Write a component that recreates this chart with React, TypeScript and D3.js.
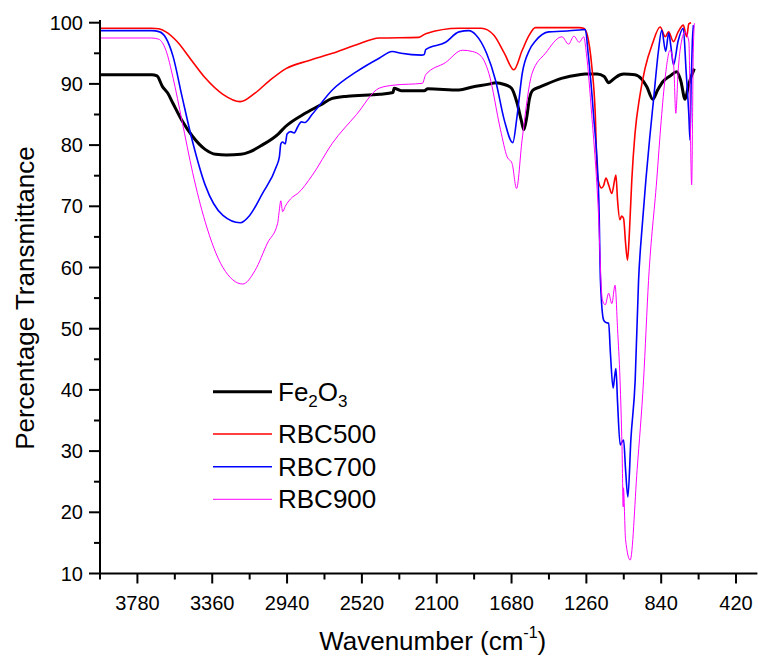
import React from "react";
import * as d3 from "d3";

// ---------- data (wavenumber cm^-1, % transmittance) ----------
const fe2o3W = [3990,3800,3700,3670,3640,3610,3580,3530,3470,3400,3340,3280,3200,3150,3080,2990,2950,2850,2750,2690,2600,2420,2345,2339,2300,2170,2150,1975,1900,1800,1770,1720,1680,1650,1625,1611,1595,1580,1560,1520,1400,1300,1266,1200,1160,1135,1115,1094,1050,987,950,920,887,860,830,790,753,730,706,685,654];
const fe2o3T = [91.5,91.5,91.5,91.3,89.6,88.5,86.8,84.0,81.4,79.3,78.5,78.4,78.5,78.9,80.0,81.8,83.0,85.0,86.6,87.6,88.0,88.3,88.6,89.3,88.9,88.9,89.2,89.0,89.5,90.0,90.2,89.9,89.3,87.0,84.0,82.5,84.5,87.5,89.0,89.5,90.9,91.5,91.6,91.6,91.2,90.2,90.6,91.1,91.6,91.5,90.8,89.5,87.5,89.0,90.4,91.3,92.0,90.5,87.5,90.0,92.5];

const rbc500W = [3990,3700,3660,3620,3560,3480,3400,3300,3203,3120,3040,2946,2820,2686,2550,2423,2200,2162,1975,1850,1780,1720,1667,1620,1580,1546,1300,1275,1255,1230,1210,1200,1190,1175,1163,1150,1135,1117,1100,1094,1085,1072,1062,1051,1040,1029,1018,1005,987,960,931,890,846,817,799,771,745,716,697,685,672];
const rbc500T = [99.1,99.1,99.0,98.5,97.0,94.0,91.0,88.3,87.1,88.5,90.5,92.5,93.8,95.0,96.4,97.5,97.6,98.2,99.1,99.1,98.0,95.0,92.3,95.5,98.0,99.2,99.2,99.1,98.0,93.0,85.0,76.0,73.8,73.0,73.4,74.6,73.5,72.1,74.5,75.1,71.0,67.8,68.4,68.0,64.0,61.2,66.0,74.3,81.9,88.0,92.5,96.5,99.3,97.7,98.5,96.9,98.5,99.6,97.7,99.8,100];

const rbc700W = [3990,3700,3655,3620,3580,3530,3470,3400,3300,3203,3150,3080,3000,2983,2975,2965,2950,2940,2920,2900,2880,2860,2840,2800,2686,2550,2423,2350,2300,2185,2170,2162,2050,1975,1919,1880,1820,1770,1720,1673,1650,1620,1580,1546,1471,1400,1300,1266,1250,1220,1190,1181,1163,1150,1135,1125,1110,1102,1094,1085,1070,1060,1051,1040,1027,1010,986,967,946,926,905,883,855,837,815,798,785,771,745,716,700,685,678,672,665,659];
const rbc700T = [98.7,98.7,98.5,97.5,94.5,88.0,80.5,73.5,68.5,67.3,68.5,72.0,76.5,78.1,80.2,80.5,80.2,81.8,82.2,82.0,83.0,83.8,83.7,85.0,89.0,92.0,94.2,95.3,95.0,94.7,94.8,95.6,96.8,98.5,98.7,98.0,95.0,90.6,84.0,80.4,84.5,91.7,95.5,97.0,98.5,98.6,98.8,98.9,95.0,85.0,71.0,57.9,51.4,51.0,50.9,46.0,40.3,42.0,43.5,38.0,31.0,31.5,31.8,27.0,22.5,32.0,41.6,57.9,67.0,74.3,81.0,87.4,95.5,98.8,95.3,98.3,96.0,93.1,97.0,99.1,92.0,85.0,80.8,90.0,97.0,99.6];

const rbc900W = [3990,3700,3660,3620,3580,3530,3470,3400,3300,3189,3120,3050,2993,2985,2975,2965,2950,2910,2880,2800,2686,2550,2423,2339,2180,2162,2050,1956,1900,1850,1807,1742,1705,1677,1652,1621,1565,1490,1397,1360,1330,1300,1275,1260,1230,1195,1170,1154,1135,1117,1099,1085,1071,1060,1053,1052,1040,1014,975,939,911,865,840,817,790,770,758,745,734,706,685,669,660,654];
const rbc900T = [97.5,97.5,97.3,95.5,91.0,84.0,75.5,67.5,60.0,57.3,59.5,64.0,67.2,69.0,70.9,69.1,70.0,71.5,72.1,75.0,80.3,85.0,89.3,89.8,90.1,91.5,93.5,95.5,95.3,94.5,91.7,82.5,78.1,77.0,72.9,80.8,91.7,95.0,97.7,96.5,97.8,96.8,97.7,95.0,85.0,70.5,54.7,53.9,55.8,54.1,57.1,50.0,41.6,30.7,20.9,24.0,15.5,12.2,27.0,41.6,57.9,74.3,84.0,91.2,95.5,93.0,85.2,92.0,95.5,98.5,97.0,73.5,95.0,99.9];

const seriesNames = ["Fe2O3", "RBC500", "RBC700", "RBC900"];
const seriesColors = ["#000000", "#ff0000", "#0000ff", "#ff00ff"];
const seriesWidths = [3, 1.6, 1.6, 1];

const xMajorTicks = [3780, 3360, 2940, 2520, 2100, 1680, 1260, 840, 420];
const xMinorTicks = [3990, 3570, 3150, 2730, 2310, 1890, 1470, 1050, 630];
const yMajorTicks = [10, 20, 30, 40, 50, 60, 70, 80, 90, 100];
const yMinorTicks = [15, 25, 35, 45, 55, 65, 75, 85, 95];

const FONT = "'Liberation Sans', Arial, Helvetica, sans-serif";

export default function App() {
  const W = 758, H = 660;
  const x = d3.scaleLinear().domain([3990, 300]).range([100, 757.4]);
  const y = d3.scaleLinear().domain([10, 100]).range([573.5, 22.7]);

  const allW = [fe2o3W, rbc500W, rbc700W, rbc900W];
  const allT = [fe2o3T, rbc500T, rbc700T, rbc900T];

  const line = d3
    .line<[number, number]>()
    .x((d) => x(d[0]))
    .y((d) => y(d[1]))
    .curve(d3.curveMonotoneX);

  const paths = allW.map((ws, i) => line(ws.map((w, j) => [w, allT[i][j]] as [number, number])) || "");

  const x0 = x.range()[0];
  const x1 = x.range()[1];
  const yB = y(10);

  const legendY = [391.7, 434, 466.7, 499.3];

  return (
    <svg
      width={W}
      height={H}
      style={{ position: "absolute", left: 0, top: 0, background: "#fff" }}
      fontFamily={FONT}
    >
      <rect x={0} y={0} width={W} height={H} fill="#fff" />
      {/* series */}
      {paths.map((p, i) => (
        <path key={i} d={p} fill="none" stroke={seriesColors[i]} strokeWidth={seriesWidths[i]} strokeLinejoin="round" />
      ))}

      {/* axes */}
      <line x1={x0} x2={x0} y1={20} y2={yB + 1} stroke="#000" strokeWidth={2} />
      <line x1={x0 - 1} x2={x1} y1={yB} y2={yB} stroke="#000" strokeWidth={2} />

      {yMajorTicks.map((t) => (
        <g key={"ym" + t}>
          <line x1={x0 - 11} x2={x0} y1={y(t)} y2={y(t)} stroke="#000" strokeWidth={2} />
          <text x={x0 - 17} y={y(t)} dy="0.35em" textAnchor="end" fontSize={20} fill="#000">
            {t}
          </text>
        </g>
      ))}
      {yMinorTicks.map((t) => (
        <line key={"yn" + t} x1={x0 - 6} x2={x0} y1={y(t)} y2={y(t)} stroke="#000" strokeWidth={2} />
      ))}

      {xMajorTicks.map((t) => (
        <g key={"xm" + t}>
          <line x1={x(t)} x2={x(t)} y1={yB} y2={yB + 10} stroke="#000" strokeWidth={2} />
          <text x={x(t)} y={610} textAnchor="middle" fontSize={20} fill="#000">
            {t}
          </text>
        </g>
      ))}
      {xMinorTicks.map((t) => (
        <line key={"xn" + t} x1={x(t)} x2={x(t)} y1={yB} y2={yB + 6} stroke="#000" strokeWidth={2} />
      ))}

      {/* axis titles */}
      <text
        transform={`translate(34,${(y(10) + y(100)) / 2}) rotate(-90)`}
        textAnchor="middle"
        fontSize={26}
        fill="#000"
      >
        Percentage Transmittance
      </text>
      <text x={(x0 + x1) / 2 + 4} y={650} textAnchor="middle" fontSize={26} fill="#000">
        Wavenumber (cm
        <tspan fontSize={16} dy={-12}>-1</tspan>
        <tspan dy={12}>)</tspan>
      </text>

      {/* legend */}
      {seriesNames.map((n, i) => (
        <g key={"lg" + n}>
          <line x1={213} x2={272} y1={legendY[i]} y2={legendY[i]} stroke={seriesColors[i]} strokeWidth={seriesWidths[i]} />
          {i === 0 ? (
            <text x={278} y={legendY[i] + 9} fontSize={26} fill="#000">
              Fe
              <tspan fontSize={17} dy={6}>2</tspan>
              <tspan dy={-6}>O</tspan>
              <tspan fontSize={17} dy={6}>3</tspan>
            </text>
          ) : (
            <text x={278} y={legendY[i] + 9} fontSize={26} fill="#000">
              {n}
            </text>
          )}
        </g>
      ))}
    </svg>
  );
}
